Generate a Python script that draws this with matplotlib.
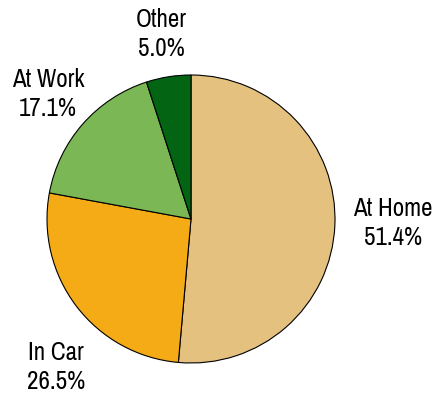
import matplotlib
matplotlib.use('Agg')
import matplotlib.pyplot as plt

# Data
labels = ['At Home', 'In Car', 'At Work', 'Other']
shares = [51.4, 26.5, 17.1, 5.0]
colors = ['#E4C17F', '#F5AB16', '#7BB855', '#036514']

# label centres in pixel coords (x, y from bottom)
label_pos = [(393, 171), (56, 27), (48, 300), (161, 360)]

plt.rcParams['font.family'] = ['Pragati Narrow', 'DejaVu Sans']

fig = plt.figure(figsize=(4.35, 3.94), dpi=100)
ax = fig.add_axes([0, 0, 1, 1])
ax.pie(shares, colors=colors, startangle=90, counterclock=False,
       radius=144, center=(191, 175),
       wedgeprops=dict(edgecolor='black', linewidth=0.8))
ax.set_xlim(0, 435)
ax.set_ylim(0, 394)
ax.set_aspect('equal')
ax.axis('off')

for name, val, (x, y) in zip(labels, shares, label_pos):
    ax.text(x, y, '%s\n%.1f%%' % (name, val), ha='center', va='center',
            fontsize=19.5, linespacing=1.3, color='black')

plt.savefig('out.png', dpi=100)
